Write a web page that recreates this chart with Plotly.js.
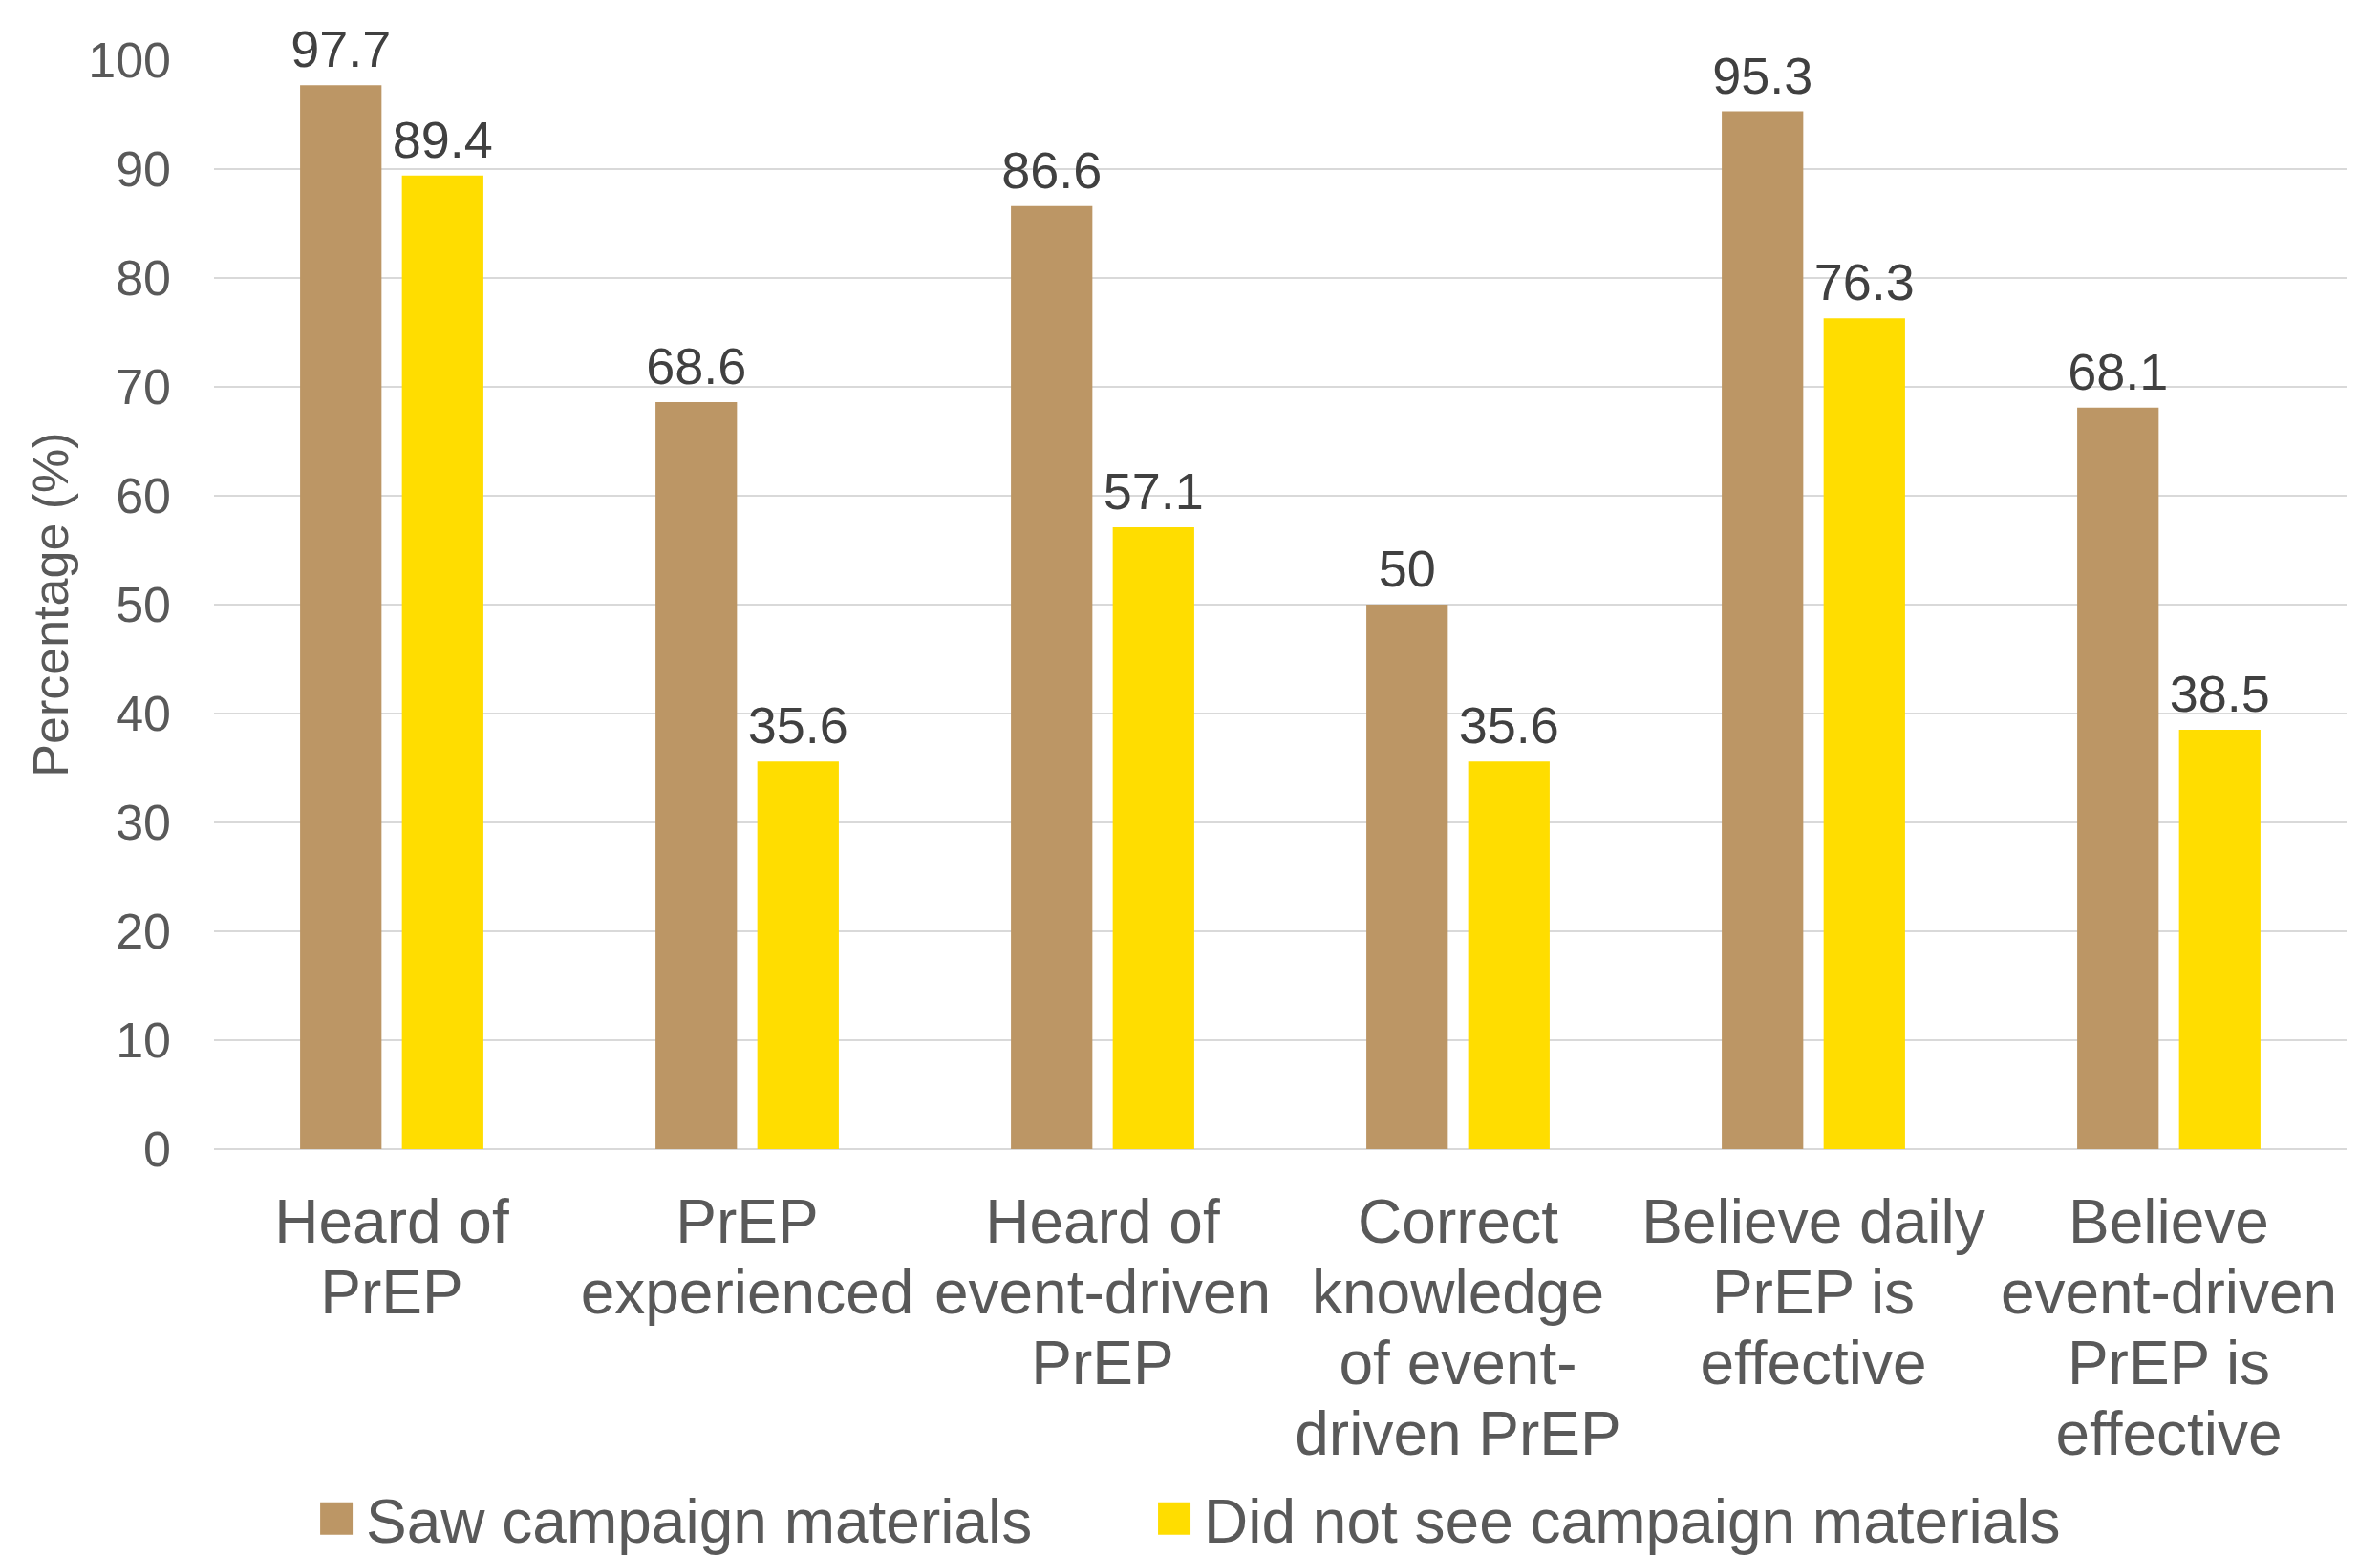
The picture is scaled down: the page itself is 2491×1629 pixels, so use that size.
<!DOCTYPE html>
<html>
<head>
<meta charset="utf-8">
<script src="https://cdn.plot.ly/plotly-3.0.1.min.js"></script>
<style>html,body{margin:0;padding:0;background:#fff;}#chart{width:2491px;height:1629px;}</style>
</head>
<body>
<div id="chart"></div>
<script>
const categories = [
  "Heard of<br>PrEP",
  "PrEP<br>experienced",
  "Heard of<br>event-driven<br>PrEP",
  "Correct<br>knowledge<br>of event-<br>driven PrEP",
  "Believe daily<br>PrEP is<br>effective",
  "Believe<br>event-driven<br>PrEP is<br>effective"
];
const sawValues = [97.7, 68.6, 86.6, 50, 95.3, 68.1];
const notSawValues = [89.4, 35.6, 57.1, 35.6, 76.3, 38.5];
const seriesNames = ["Saw campaign materials", "Did not see campaign materials"];
const yTicks = [0, 10, 20, 30, 40, 50, 60, 70, 80, 90, 100];

const FONT = "Liberation Sans, Arial, sans-serif";

function barTrace(name, vals, color, legendId) {
  return {
    type: "bar",
    name: name,
    legend: legendId,
    x: categories,
    y: vals,
    text: vals.map(v => String(v)),
    texttemplate: "%{text}",
    textposition: "outside",
    constraintext: "none",
    cliponaxis: false,
    textfont: {family: FONT, size: 54, color: "#404040"},
    marker: {color: color, line: {width: 0}},
    hoverinfo: "none"
  };
}

const data = [
  barTrace(seriesNames[0], sawValues, "#BC9665", "legend"),
  barTrace(seriesNames[1], notSawValues, "#FFDD00", "legend2")
];

function legendStyle(xPos) {
  return {
    orientation: "h",
    x: xPos,
    xanchor: "left",
    y: -0.3395,
    yanchor: "middle",
    font: {family: FONT, size: 64, color: "#595959"},
    itemwidth: 52,
    bgcolor: "rgba(0,0,0,0)",
    borderwidth: 0
  };
}

const layout = {
  width: 2491,
  height: 1629,
  paper_bgcolor: "#ffffff",
  plot_bgcolor: "#ffffff",
  font: {family: FONT, color: "#595959"},
  margin: {l: 224, r: 35, t: 63, b: 426, autoexpand: false},
  barmode: "group",
  bargap: 0.427,
  bargroupgap: 0.2,
  showlegend: true,
  legend: legendStyle(0.0435),
  legend2: legendStyle(0.4364),
  xaxis: {
    type: "category",
    showgrid: false,
    showline: false,
    zeroline: false,
    ticks: "",
    tickfont: {family: FONT, size: 64, color: "#595959"},
    ticklabelstandoff: 33,
    automargin: false
  },
  yaxis: {
    range: [0, 100],
    tickvals: yTicks,
    ticktext: yTicks.map(String),
    showgrid: true,
    gridcolor: "#D9D9D9",
    gridwidth: 2,
    zeroline: true,
    zerolinecolor: "#D9D9D9",
    zerolinewidth: 2,
    showline: false,
    ticks: "",
    ticklabelstandoff: 44,
    tickfont: {family: FONT, size: 52, color: "#595959"},
    title: {text: "Percentage (%)", font: {family: FONT, size: 52, color: "#595959"}, standoff: 4},
    automargin: false,
    fixedrange: true
  }
};

Plotly.newPlot("chart", data, layout, {staticPlot: true, displayModeBar: false}).then(function(gd){
  // larger square legend swatches, as in the reference
  document.querySelectorAll(".legendpoints path").forEach(function(p){
    p.setAttribute("d", "M17,17H-17V-17H17Z");
  });
  // tighter line spacing for the multi-line category labels
  document.querySelectorAll(".xtick text tspan.line").forEach(function(t){
    var dy = parseFloat(t.getAttribute("dy"));
    if (dy) t.setAttribute("dy", (dy / 1.3 * 1.156) + "em");
  });
  // slightly more room between bars and their value labels
  document.querySelectorAll(".bars .bartext").forEach(function(t){
    var tr = t.getAttribute("transform") || "";
    t.setAttribute("transform", tr + " translate(0,-5)");
  });
});
</script>
</body>
</html>
